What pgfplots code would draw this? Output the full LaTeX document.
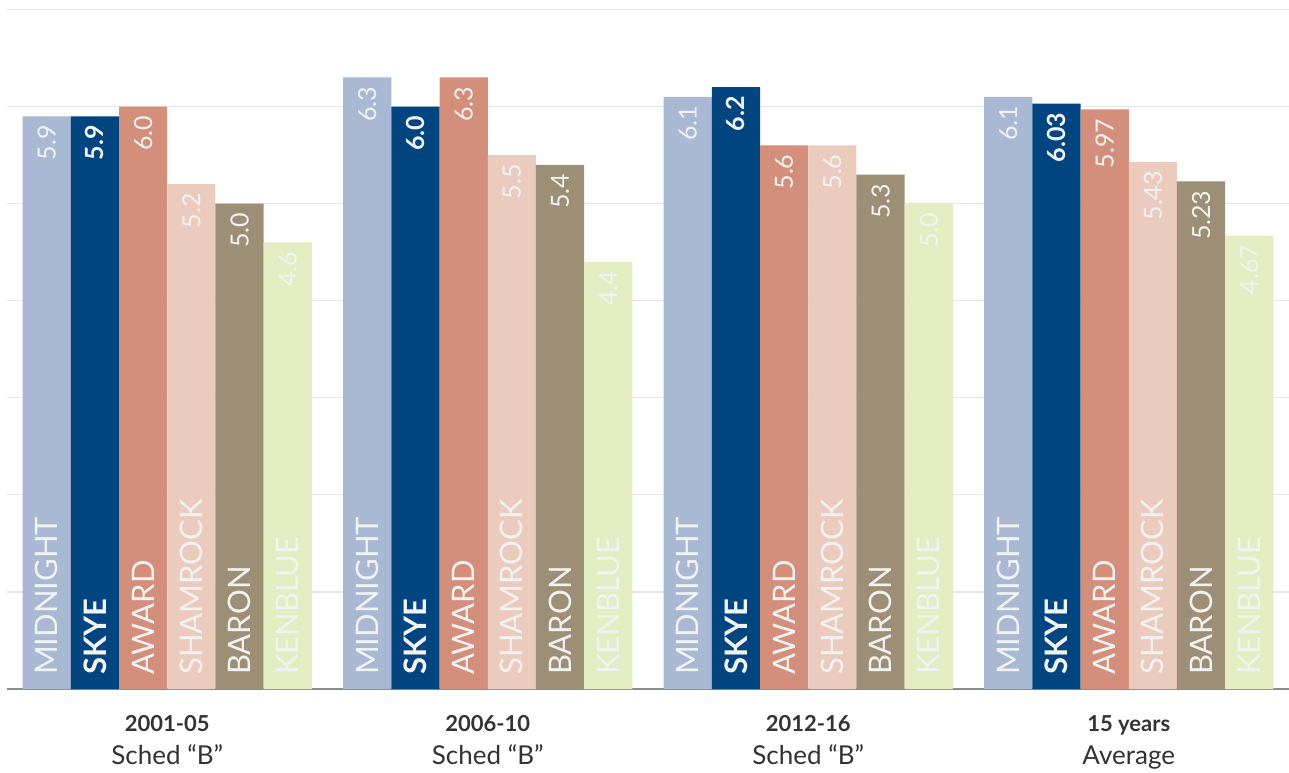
\documentclass[border=0pt]{standalone}
\usepackage{fontspec}
\setmainfont{Lato}
\usepackage{pgfplots}
\pgfplotsset{compat=1.18}

\definecolor{cMid}{HTML}{A9B8D3}
\definecolor{cSky}{HTML}{00457F}
\definecolor{cAwa}{HTML}{D38F7B}
\definecolor{cSha}{HTML}{EACBBE}
\definecolor{cBar}{HTML}{9C8F75}
\definecolor{cKen}{HTML}{E4EDC1}
\definecolor{labw}{HTML}{F2F2F2}
\definecolor{grd}{HTML}{E6E6E6}
\definecolor{base}{HTML}{8C8C8C}
\definecolor{txt}{HTML}{333333}

\newcommand{\vlab}{\fontsize{25}{25}\selectfont}
\newcommand{\nlab}{\fontsize{31}{31}\selectfont}
\newcommand{\grp}[2]{{\fontsize{22}{26}\selectfont\bfseries #1}\\#2}

% value label at the top of a bar, name label at its foot
\pgfplotsset{
  vals/.style={nodes near coords, point meta=explicit symbolic,
    every node near coord/.append style={rotate=90, anchor=east,
      inner xsep=9pt, text=labw, font=\vlab#1}},
  names/.style={draw=none, fill=none, nodes near coords,
    point meta=explicit symbolic,
    every node near coord/.append style={rotate=90, anchor=west,
      inner xsep=14pt, text=labw, font=\nlab#1}},
}

\begin{document}
\begin{tikzpicture}
\begin{axis}[
  name=ax,
  scale only axis,
  width=1282pt, height=679.5pt,
  xmin=-0.5, xmax=3.5, ymin=0, ymax=7,
  ybar, bar width=0.1505,
  axis x line*=bottom, axis y line*=left,
  x axis line style={draw=base, line width=1.5pt, -},
  y axis line style={draw=none},
  ytick={1,...,7}, yticklabels={}, ytick style={draw=none},
  ymajorgrids, major grid style={draw=grd, line width=1.2pt},
  xtick={0,1,2,3}, xtick style={draw=none},
  xticklabel style={align=center, text=txt,
    font=\fontsize{26}{33}\selectfont, yshift=-19pt},
  xticklabels={
    {\grp{2001-05}{Sched “B”}},
    {\grp{2006-10}{Sched “B”}},
    {\grp{2012-16}{Sched “B”}},
    {\grp{15 years}{Average}}},
]
% MIDNIGHT
\addplot[fill=cMid, draw=none, bar shift=-0.37625, vals={}]
  coordinates {(0,5.9)[5.9] (1,6.3)[6.3] (2,6.1)[6.1] (3,6.1)[6.1]};
% SKYE
\addplot[fill=cSky, draw=none, bar shift=-0.22575, vals={\bfseries}]
  coordinates {(0,5.9)[5.9] (1,6.0)[6.0] (2,6.2)[6.2] (3,6.03)[6.03]};
% AWARD
\addplot[fill=cAwa, draw=none, bar shift=-0.07525, vals={}]
  coordinates {(0,6.0)[6.0] (1,6.3)[6.3] (2,5.6)[5.6] (3,5.97)[5.97]};
% SHAMROCK
\addplot[fill=cSha, draw=none, bar shift=0.07525, vals={}]
  coordinates {(0,5.2)[5.2] (1,5.5)[5.5] (2,5.6)[5.6] (3,5.43)[5.43]};
% BARON
\addplot[fill=cBar, draw=none, bar shift=0.22575, vals={}]
  coordinates {(0,5.0)[5.0] (1,5.4)[5.4] (2,5.3)[5.3] (3,5.23)[5.23]};
% KENBLUE
\addplot[fill=cKen, draw=none, bar shift=0.37625, vals={}]
  coordinates {(0,4.6)[4.6] (1,4.4)[4.4] (2,5.0)[5.0] (3,4.67)[4.67]};

\addplot[names={}, bar shift=-0.37625]
  coordinates {(0,0)[MIDNIGHT] (1,0)[MIDNIGHT] (2,0)[MIDNIGHT] (3,0)[MIDNIGHT]};
\addplot[names={\bfseries}, bar shift=-0.22575]
  coordinates {(0,0)[SKYE] (1,0)[SKYE] (2,0)[SKYE] (3,0)[SKYE]};
\addplot[names={}, bar shift=-0.07525]
  coordinates {(0,0)[AWARD] (1,0)[AWARD] (2,0)[AWARD] (3,0)[AWARD]};
\addplot[names={}, bar shift=0.07525]
  coordinates {(0,0)[SHAMROCK] (1,0)[SHAMROCK] (2,0)[SHAMROCK] (3,0)[SHAMROCK]};
\addplot[names={}, bar shift=0.22575]
  coordinates {(0,0)[BARON] (1,0)[BARON] (2,0)[BARON] (3,0)[BARON]};
\addplot[names={}, bar shift=0.37625]
  coordinates {(0,0)[KENBLUE] (1,0)[KENBLUE] (2,0)[KENBLUE] (3,0)[KENBLUE]};
\end{axis}
\pgfresetboundingbox
\path ([xshift=-7pt,yshift=-83pt]ax.south west) rectangle ([yshift=9.5pt]ax.north east);
\end{tikzpicture}
\end{document}
